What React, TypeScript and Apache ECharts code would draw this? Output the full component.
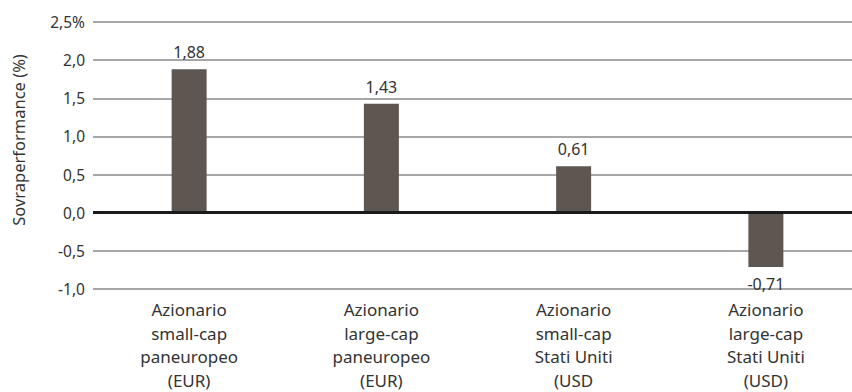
import React, { useEffect, useRef } from "react";
import * as echarts from "echarts";

// Categories (multi-line labels) and outperformance values in percent
const categories = [
  "Azionario\nsmall-cap\npaneuropeo\n(EUR)",
  "Azionario\nlarge-cap\npaneuropeo\n(EUR)",
  "Azionario\nsmall-cap\nStati Uniti\n(USD",
  "Azionario\nlarge-cap\nStati Uniti\n(USD)",
];
const values = [1.88, 1.43, 0.61, -0.71];
const yTitle = "Sovraperformance (%)";

const FONT = "'Noto Sans', 'Open Sans', sans-serif";
const TEXT = "#333333";

const fmt = (v: number) => v.toFixed(2).replace(".", ",");

export default function App() {
  const ref = useRef<HTMLDivElement>(null);

  useEffect(() => {
    if (!ref.current) return;
    const chart = echarts.init(ref.current, undefined, { renderer: "svg" });
    chart.setOption({
      animation: false,
      backgroundColor: "#ffffff",
      textStyle: { fontFamily: FONT },
      // plot area runs past the right edge of the visible frame
      grid: { left: 93, top: 22, width: 769, height: 269, containLabel: false },
      graphic: [
        {
          type: "text",
          x: 18,
          y: 140,
          rotation: Math.PI / 2,
          style: {
            text: yTitle,
            font: `16.5px ${FONT}`,
            fill: TEXT,
            align: "center",
            verticalAlign: "middle",
          },
        },
      ],
      xAxis: {
        type: "category",
        data: categories,
        axisLine: { show: false, onZero: false },
        axisTick: { show: false },
        axisLabel: {
          color: TEXT,
          fontSize: 17,
          lineHeight: 23.5,
          margin: 9,
          fontFamily: FONT,
          interval: 0,
        },
      },
      yAxis: {
        type: "value",
        min: -1,
        max: 2.5,
        interval: 0.5,
        axisLine: { show: false },
        axisTick: { show: false },
        axisLabel: {
          color: TEXT,
          fontSize: 15.5,
          margin: 8,
          fontFamily: FONT,
          formatter: (v: number) =>
            v.toFixed(1).replace(".", ",") + (Math.abs(v - 2.5) < 1e-9 ? "%" : ""),
        },
        splitLine: { lineStyle: { color: "#8a8a8a", width: 1.5 } },
      },
      series: [
        {
          type: "bar",
          data: values.map((v) => ({
            value: v,
            label: { position: v < 0 ? "bottom" : "top" },
          })),
          barWidth: 35,
          itemStyle: { color: "#5e5650" },
          label: {
            show: true,
            color: TEXT,
            fontSize: 16,
            fontFamily: FONT,
            distance: 9,
            formatter: (p: any) => fmt(p.value),
          },
          markLine: {
            silent: true,
            symbol: "none",
            label: { show: false },
            lineStyle: { color: "#1a1a1a", width: 2.8, type: "solid" },
            data: [{ yAxis: 0 }],
          },
        },
      ],
    });
    return () => chart.dispose();
  }, []);

  return (
    <div
      style={{
        position: "fixed",
        left: 0,
        top: 0,
        width: 852,
        height: 392,
        overflow: "hidden",
      }}
    >
      <div ref={ref} style={{ width: 872, height: 392 }} />
    </div>
  );
}
